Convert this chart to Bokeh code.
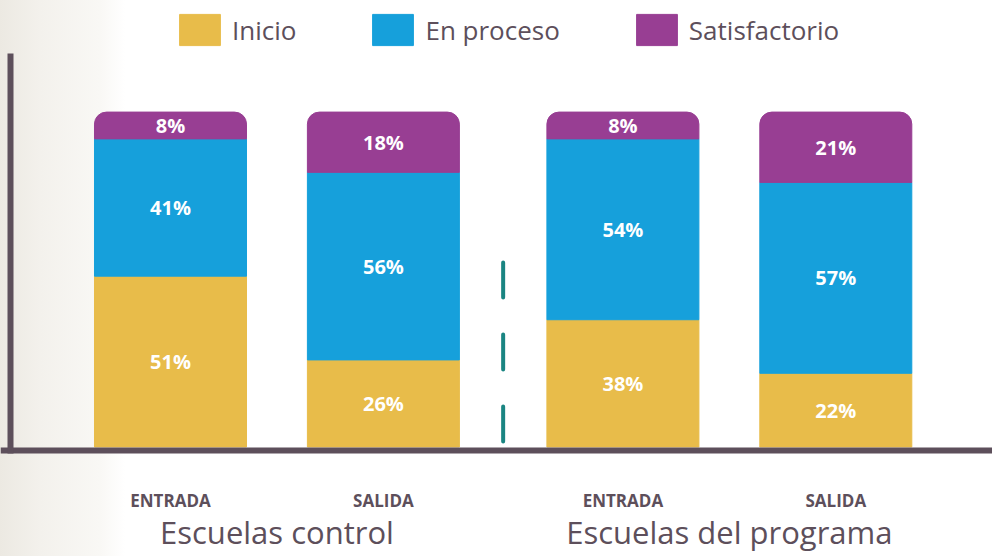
from bokeh.plotting import figure
from bokeh.models import Range1d, Legend, LegendItem, ColumnDataSource
from bokeh.core.properties import value
from bokeh.embed import file_html
from bokeh.resources import INLINE

# ---------------- data ----------------
groups = ["Escuelas control", "Escuelas del programa"]
moments = ["ENTRADA", "SALIDA"]
series = ["Inicio", "En proceso", "Satisfactorio"]
inicio = [51, 26, 38, 22]
en_proceso = [41, 56, 54, 57]
satisfactorio = [8, 18, 8, 21]
colors = ["#E8BC4A", "#16A0DB", "#983E93"]

# ---------------- layout constants ----------------
AXIS_COLOR = "#5D4F5B"
TEXT_COLOR = "#5D4F5B"
SEP_COLOR = "#1A8582"
FONT = "Open Sans"
SPACING = 1000          # distance between bars (x units)
GROUP_GAP = 125         # extra gap between the two groups
BAR_WIDTH = 714
X_RANGE = (-798.5, 3861)
Y_RANGE = (-32.70, 133.32)
AXIS_Y = -1.05          # horizontal axis line (value units)
AXIS_X = -751.5         # vertical axis line
AXIS_TOP = 117.5
SEP_EXTENT = (55.09, 1.64)
MOMENT_Y = -15.85       # centre line of ENTRADA / SALIDA
GROUP_Y = -25.3         # centre line of group titles

positions, moment_labels, group_x = [], [], []
for gi, g in enumerate(groups):
    gpos = []
    for mi, m in enumerate(moments):
        x = (gi * len(moments) + mi) * SPACING + gi * GROUP_GAP
        positions.append(x)
        moment_labels.append(m)
        gpos.append(x)
    group_x.append(sum(gpos) / len(gpos))

values = [inicio, en_proceso, satisfactorio]
data = {"x": positions}
for s, v in zip(series, values):
    data[s] = v
source = ColumnDataSource(data)

# label positions: middle of each stacked segment
lx, ly, lt = [], [], []
for i, x in enumerate(positions):
    bottom = 0
    for v in values:
        lx.append(x)
        ly.append(bottom + v[i] / 2)
        lt.append(f"{v[i]}%")
        bottom += v[i]

p = figure(width=992, height=556,
           x_range=Range1d(*X_RANGE), y_range=Range1d(*Y_RANGE),
           output_backend="svg", toolbar_location=None,
           x_axis_location=None, y_axis_location=None,
           min_border=0, min_border_left=0, min_border_right=0,
           min_border_top=0, min_border_bottom=0,
           background_fill_color=None, border_fill_color=None,
           outline_line_color=None)
p.styles = {"background": "linear-gradient(90deg, #ece9e2 0px, #f3f1ec 40px, "
                          "#f9f8f5 100px, #ffffff 125px)"}
p.grid.visible = False

renderers = p.vbar_stack(series, x="x", width=BAR_WIDTH, color=colors,
                         source=source)
renderers[-1].glyph.border_radius = (12, 12, 0, 0)

p.text(x=lx, y=ly, text=lt, text_color="white", text_font=value(FONT),
       text_font_style="bold", text_font_size="20px", text_align="center",
       text_baseline="middle")

# axis lines
p.line(x=[X_RANGE[0], X_RANGE[1]], y=[AXIS_Y, AXIS_Y], line_color=AXIS_COLOR,
       line_width=6)
p.line(x=[AXIS_X, AXIS_X], y=[AXIS_TOP, AXIS_Y - 0.9], line_color=AXIS_COLOR,
       line_width=6)

# dashed separator between the two groups
sep_x = (positions[len(moments) - 1] + positions[len(moments)]) / 2
p.line(x=[sep_x, sep_x], y=list(SEP_EXTENT), line_color=SEP_COLOR,
       line_width=4, line_dash="35 37", line_cap="round")

# category labels
p.text(x=positions, y=[MOMENT_Y] * len(positions), text=moment_labels,
       text_color=TEXT_COLOR, text_font=value(FONT), text_font_style="bold",
       text_font_size="17px", text_align="center", text_baseline="middle")
p.text(x=group_x, y=[GROUP_Y] * len(group_x), text=groups,
       text_color=TEXT_COLOR, text_font=value(FONT), text_font_size="31px",
       text_align="center", text_baseline="middle")

legend = Legend(items=[LegendItem(label=s, renderers=[r])
                       for s, r in zip(series, renderers)],
                location=(174, 507), orientation="horizontal",
                glyph_width=51, glyph_height=39, label_standoff=7, spacing=71,
                padding=0, margin=0, border_line_color=None,
                background_fill_alpha=0, label_text_font=FONT,
                label_text_font_size="26px", label_text_color=TEXT_COLOR)
p.add_layout(legend)

open("out.html", "w").write(file_html(p, INLINE))
